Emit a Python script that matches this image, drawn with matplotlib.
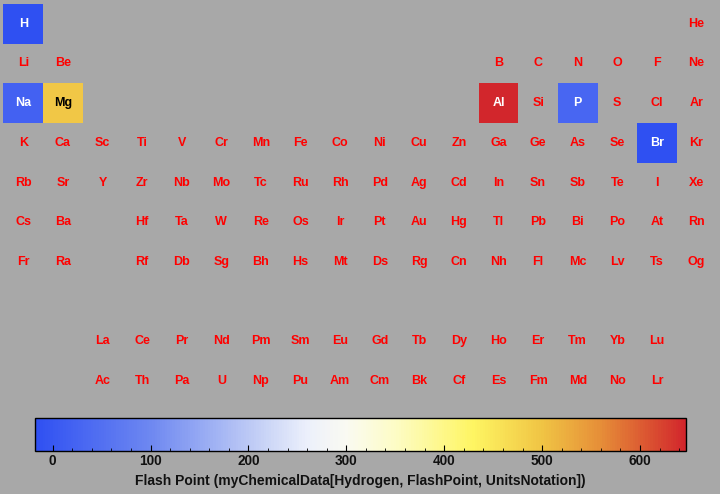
import matplotlib
matplotlib.use("Agg")
import matplotlib.pyplot as plt
from matplotlib.colors import LinearSegmentedColormap, Normalize
from matplotlib.cm import ScalarMappable
from matplotlib.patches import Rectangle
from matplotlib.ticker import MultipleLocator

plt.rcParams["font.family"] = ["Liberation Sans", "DejaVu Sans"]

# periodic table pieces: symbols per row segment
period_1 = ["H"]
period_1b = ["He"]
period_2a = ["Li", "Be"]
period_2b = ["B", "C", "N", "O", "F", "Ne"]
period_3a = ["Na", "Mg"]
period_3b = ["Al", "Si", "P", "S", "Cl", "Ar"]
period_4 = ["K", "Ca", "Sc", "Ti", "V", "Cr", "Mn", "Fe", "Co", "Ni", "Cu", "Zn",
            "Ga", "Ge", "As", "Se", "Br", "Kr"]
period_5 = ["Rb", "Sr", "Y", "Zr", "Nb", "Mo", "Tc", "Ru", "Rh", "Pd", "Ag", "Cd",
            "In", "Sn", "Sb", "Te", "I", "Xe"]
period_6a = ["Cs", "Ba"]
period_6b = ["Hf", "Ta", "W", "Re", "Os", "Ir", "Pt", "Au", "Hg", "Tl", "Pb", "Bi",
             "Po", "At", "Rn"]
period_7a = ["Fr", "Ra"]
period_7b = ["Rf", "Db", "Sg", "Bh", "Hs", "Mt", "Ds", "Rg", "Cn", "Nh", "Fl", "Mc",
             "Lv", "Ts", "Og"]
lanthanides = ["La", "Ce", "Pr", "Nd", "Pm", "Sm", "Eu", "Gd", "Tb", "Dy", "Ho", "Er",
               "Tm", "Yb", "Lu"]
actinides = ["Ac", "Th", "Pa", "U", "Np", "Pu", "Am", "Cm", "Bk", "Cf", "Es", "Fm",
             "Md", "No", "Lr"]

# (display row, first group, symbols)
blocks = [
    (1, 1, period_1), (1, 18, period_1b),
    (2, 1, period_2a), (2, 13, period_2b),
    (3, 1, period_3a), (3, 13, period_3b),
    (4, 1, period_4), (5, 1, period_5),
    (6, 1, period_6a), (6, 4, period_6b),
    (7, 1, period_7a), (7, 4, period_7b),
    (9, 3, lanthanides), (10, 3, actinides),
]

# flash point values (deg C) for elements that have one
fp_symbols = ["H", "Na", "Mg", "Al", "P", "Br"]
fp_values = [-17, 20, 495, 645, 30, -18]

vmin, vmax = -18, 647

cmap = LinearSegmentedColormap.from_list("temp", [
    (0.0, "#2f50f2"),
    (0.177, "#6e88f1"),
    (0.328, "#bcc9f5"),
    (0.418, "#ecf0fb"),
    (0.478, "#fafaf2"),
    (0.553, "#fdfcc6"),
    (0.674, "#fef562"),
    (0.78, "#f0c444"),
    (0.87, "#e68e38"),
    (1.0, "#d2262c"),
])
norm = Normalize(vmin=vmin, vmax=vmax)
fp_lookup = dict(zip(fp_symbols, fp_values))

bg = "#a8a8a8"
fig = plt.figure(figsize=(7.2, 4.94), dpi=100, facecolor=bg)
ax = fig.add_axes([0, 0, 1, 1])
ax.set_facecolor(bg)
# one cell = 39.6 px wide, 39.7 px tall
x0 = 1 - 23.3 / 39.6
y0 = 1 - 23.7 / 39.7
ax.set_xlim(x0, x0 + 720 / 39.6)
ax.set_ylim(y0 + 494 / 39.7, y0)
ax.axis("off")

for row, start, symbols in blocks:
    for i, sym in enumerate(symbols):
        col = start + i
        txt_color = "#ff0000"
        if sym in fp_lookup:
            rgba = cmap(norm(fp_lookup[sym]))
            ax.add_patch(Rectangle((col - 0.505, row - 0.505), 1.01, 1.01,
                                   facecolor=rgba, edgecolor="none"))
            lum = 0.299 * rgba[0] + 0.587 * rgba[1] + 0.114 * rgba[2]
            txt_color = "black" if lum > 0.6 else "white"
        ax.text(col, row, sym, ha="center", va="center", fontsize=9,
                fontweight="bold", color=txt_color)

# colour bar
cax = fig.add_axes([35 / 720, 1 - 451 / 494, 651 / 720, 33 / 494])
cb = fig.colorbar(ScalarMappable(norm=norm, cmap=cmap), cax=cax,
                  orientation="horizontal")
cb.outline.set_linewidth(1.0)
cb.outline.set_edgecolor("black")
cax.xaxis.set_major_locator(MultipleLocator(100))
cax.xaxis.set_minor_locator(MultipleLocator(20))
cax.tick_params(axis="x", which="major", direction="in", length=4, width=0.8,
                color="black", labelsize=9.8, pad=2.5, labelcolor="#111111")
cax.tick_params(axis="x", which="minor", direction="in", length=2.2, width=0.6,
                color="black")
for lbl in cax.get_xticklabels():
    lbl.set_fontweight("bold")
cax.set_xlabel("Flash Point (myChemicalData[Hydrogen, FlashPoint, UnitsNotation])",
               fontsize=10, fontweight="bold", color="#111111", labelpad=4)

fig.savefig("out.png", dpi=100, facecolor=bg)
